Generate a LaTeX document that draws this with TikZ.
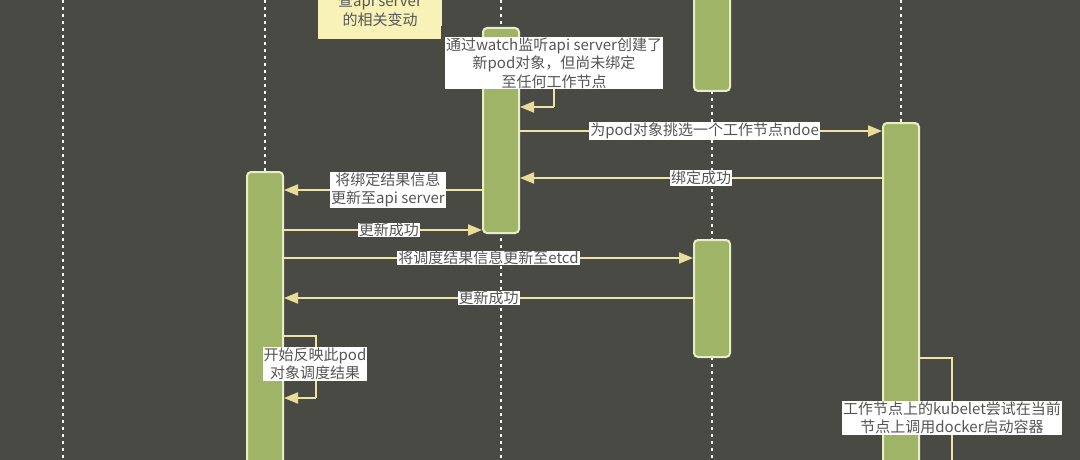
\documentclass[tikz,border=0pt]{standalone}
\usepackage{fontspec}
\newfontfamily\cjk{Noto Sans CJK SC}
\usetikzlibrary{arrows.meta}
\definecolor{bgdark}{HTML}{4A4A45}
\definecolor{actfill}{HTML}{A0B468}
\definecolor{actline}{HTML}{E8EDC4}
\definecolor{msgline}{HTML}{EEE4A6}
\definecolor{tipfill}{HTML}{E8DC98}
\definecolor{notefill}{HTML}{F8F1B8}
\definecolor{txtgray}{HTML}{555555}
\tikzset{
  act/.style={draw=actline, fill=actfill, line width=2pt, rounded corners=4pt, inner sep=0pt, minimum width=36pt},
  msg/.style={draw=msgline, line width=2pt, -{Triangle[length=14pt, width=11pt, color=tipfill]}},
  selfline/.style={draw=msgline, line width=2pt},
  lbl/.style={fill=white, text=txtgray, font=\cjk\fontsize{15}{18.5}\selectfont, inner xsep=1pt, inner ysep=0.5pt, align=center},
  life/.style={draw=white, line width=2.5pt, dash pattern=on 3pt off 4pt},
  note/.style={fill=notefill, text=txtgray, font=\cjk\fontsize{15}{19}\selectfont, align=center, inner sep=0pt, minimum width=123pt}
}
\begin{document}
\begin{tikzpicture}[x=1pt, y=-1pt]
  \useasboundingbox (0,0) rectangle (1080,460);
  \fill[bgdark] (0,0) rectangle (1080,460);
  \clip (0,0) rectangle (1080,460);

  % lifelines
  \foreach \lx in {63, 265, 501, 712, 901}
    \draw[life] (\lx, 0) -- (\lx, 460);

  % note
  \fill[notefill] (318,-20) rectangle (441,39);
  \node (watchnote) [note] at (380,10) {查api server\\的相关变动};

  % activations
  \node (sched) [act, minimum height=308pt] at (265, 326) {};
  \node (api) [act, minimum height=205pt] at (501, 130.5) {};
  \node (etcdtop) [act, minimum height=111pt] at (712, 35.5) {};
  \node (etcd) [act, minimum height=117pt] at (712, 298.5) {};
  \node (kubelet) [act, minimum height=357pt] at (901, 301.5) {};

  % api server self call
  \draw[selfline] (api.east |- 0,50) -- (554,50) -- (554,107);
  \draw[msg] (554,107) -- (api.east |- 0,107);
  \node (newpod) [lbl] at (554,63) {通过watch监听api server创建了\\新pod对象，但尚未绑定\\至任何工作节点};

  % messages
  \draw[msg] (api.east |- 0,131) -- (kubelet.west |- 0,131)
    node (pick) [lbl, pos=0.51] {为pod对象挑选一个工作节点ndoe};
  \draw[msg] (kubelet.west |- 0,178) -- (api.east |- 0,178)
    node (bindok) [lbl, midway] {绑定成功};
  \draw[msg] (api.west |- 0,190) -- (sched.east |- 0,190)
    node (bindupd) [lbl, pos=0.475] {将绑定结果信息\\更新至api server};
  \draw[msg] (sched.east |- 0,230) -- (api.west |- 0,230)
    node (updok) [lbl, pos=0.53] {更新成功};
  \draw[msg] (sched.east |- 0,258) -- (etcd.west |- 0,258)
    node (toetcd) [lbl, midway] {将调度结果信息更新至etcd};
  \draw[msg] (etcd.west |- 0,298) -- (sched.east |- 0,298)
    node (etcdok) [lbl, midway] {更新成功};

  % scheduler self call
  \draw[selfline] (sched.east |- 0,336) -- (316,336) -- (316,398);
  \draw[msg] (316,398) -- (sched.east |- 0,398);
  \node (reflect) [lbl] at (315,364) {开始反映此pod\\对象调度结果};

  % kubelet self call
  \draw[selfline] (kubelet.east |- 0,358) -- (952,358) -- (952,470);
  \node (docker) [lbl] at (952,418) {工作节点上的kubelet尝试在当前\\节点上调用docker启动容器};
\end{tikzpicture}
\end{document}
